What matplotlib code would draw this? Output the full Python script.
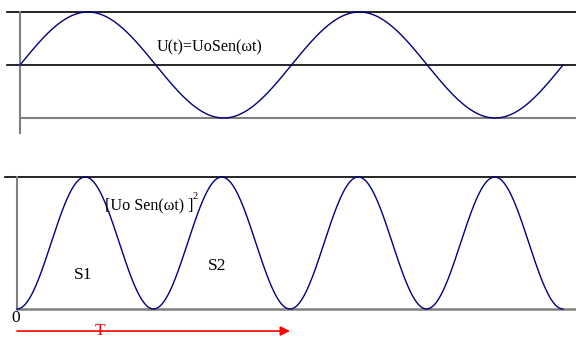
import numpy as np
import matplotlib
matplotlib.use("Agg")
import matplotlib.pyplot as plt

plt.rcParams['font.family'] = ['Liberation Serif', 'DejaVu Serif']

# curve settings (in units of the period T)
n_periods = 2
amplitude = 1.0
samples = 600

# labels
top_label = "U(t)=UoSen(ωt)"
bottom_label = "[Uo Sen(ωt) ]"
area_labels = ["S1", "S2"]
area_pos = [(0.242, 0.258), (0.733, 0.326)]
origin_label = "0"
period_label = "T"

t = np.linspace(0, n_periods, samples)
u = amplitude * np.sin(2 * np.pi * t)
u2 = u ** 2

navy = "#000080"
gray = "#808080"

fig = plt.figure(figsize=(5.76, 3.38), dpi=100)

# top panel: the sine
ax1 = fig.add_axes([0, 1 - 140 / 338, 1, 140 / 338])
ax1.set_xlim(-20 / 271.5, 556 / 271.5)
ax1.set_ylim(-75 / 53, 65 / 53)
ax1.axis('off')
ax1.plot([-13 / 271.5, 2.1], [1, 1], color='black', lw=1.2)
ax1.plot([-13 / 271.5, 2.1], [0, 0], color='black', lw=1.2)
ax1.plot([0, 2.1], [-1, -1], color=gray, lw=1.5)
ax1.plot([0, 0], [1, -68 / 53], color=gray, lw=1.5)
ax1.plot(t, u, color=navy, lw=1.0)
ax1.text(0.505, 0.34, top_label, fontsize=11.6, va='center', ha='left')

# bottom panel: the squared sine
ax2 = fig.add_axes([0, 0, 1, 198 / 338])
ax2.set_xlim(-17 / 273, 559 / 273)
ax2.set_ylim(-29 / 132, 169 / 132)
ax2.axis('off')
ax2.plot([-12 / 273, 2.1], [1, 1], color='black', lw=1.2)
ax2.plot([0, 2.1], [0, 0], color=gray, lw=1.8)
ax2.plot([0, 0], [0, 1], color=gray, lw=1.5)
ax2.plot(t, u2, color=navy, lw=1.0)
ax2.text(0.322, 0.788, bottom_label, fontsize=11.6, va='center', ha='left')
ax2.text(0.644, 0.85, "2", fontsize=7.5, va='center', ha='left')
for lab, (x, y) in zip(area_labels, area_pos):
    ax2.text(x, y, lab, fontsize=12.5, va='center', ha='center')
ax2.text(-0.004, -0.068, origin_label, fontsize=12.5, va='center', ha='center')

# arrow for one period
ax2.annotate("", xy=(1.0, -0.167), xytext=(0, -0.167),
             arrowprops=dict(arrowstyle='-|>', color='red', lw=1.2,
                             mutation_scale=14, shrinkA=0, shrinkB=0))
ax2.text(0.304, -0.167, period_label, fontsize=12.5, color='red',
         va='center', ha='center')

fig.savefig("out.png", dpi=100)
plt.close()
